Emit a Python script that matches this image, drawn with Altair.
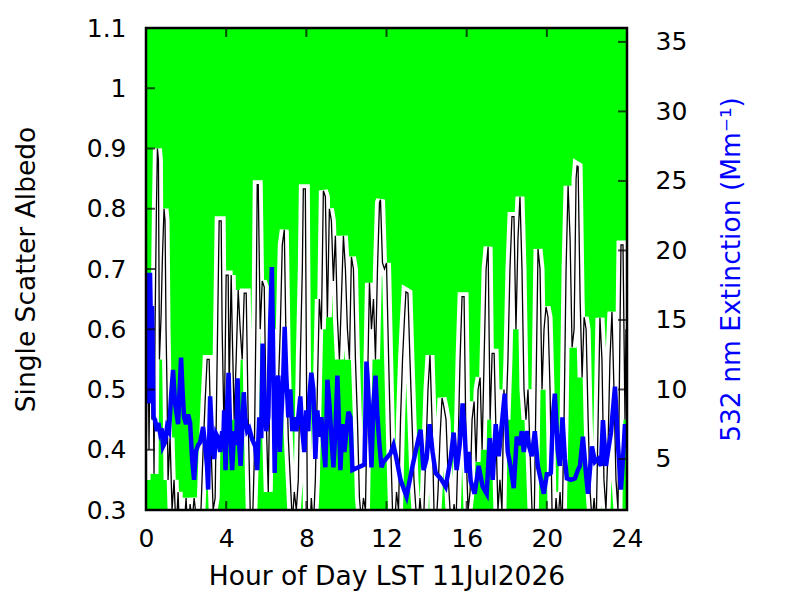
import altair as alt
import pandas as pd

# ---- data ----
albedo_hour = [
    0.0, 0.05, 0.1, 0.15, 0.2, 0.25, 0.3, 0.35, 0.4, 0.45, 0.52, 0.57, 0.62, 0.67, 0.75, 0.82, 0.9, 0.95,
    1.0, 1.05, 1.1, 1.2, 1.3, 1.4, 1.5, 1.6, 1.7, 1.8, 1.9, 2.0, 2.1, 2.2, 2.3, 2.4, 2.5, 2.6, 2.7, 2.85,
    2.95, 3.05, 3.15, 3.25, 3.35, 3.45, 3.55, 3.65, 3.75, 3.8, 3.9, 4.0, 4.1, 4.15, 4.25, 4.3, 4.4, 4.5,
    4.6, 4.7, 4.8, 4.9, 5.0, 5.1, 5.2, 5.3, 5.4, 5.5, 5.55, 5.6, 5.7, 5.8, 5.9, 6.0, 6.1, 6.2, 6.3, 6.4,
    6.5, 6.6, 6.7, 6.8, 6.9, 7.0, 7.1, 7.2, 7.3, 7.4, 7.5, 7.6, 7.7, 7.8, 7.85, 7.95, 8.05, 8.15, 8.25,
    8.35, 8.45, 8.55, 8.65, 8.75, 8.85, 8.95, 9.05, 9.15, 9.25, 9.35, 9.45, 9.55, 9.65, 9.75, 9.85, 9.95,
    10.05, 10.15, 10.25, 10.35, 10.45, 10.55, 10.65, 10.75, 10.85, 10.95, 11.05, 11.15, 11.25, 11.35,
    11.45, 11.55, 11.65, 11.7, 11.8, 11.9, 12.0, 12.1, 12.2, 12.3, 12.4, 12.5, 12.6, 12.7, 12.8, 12.9,
    12.97, 13.07, 13.17, 13.27, 13.37, 13.47, 13.57, 13.67, 13.77, 13.87, 13.97, 14.07, 14.17, 14.27,
    14.37, 14.47, 14.57, 14.67, 14.77, 14.87, 14.97, 15.07, 15.17, 15.27, 15.37, 15.47, 15.57, 15.67,
    15.77, 15.87, 15.97, 16.07, 16.17, 16.27, 16.37, 16.47, 16.57, 16.67, 16.77, 16.87, 16.97, 17.07,
    17.17, 17.27, 17.37, 17.47, 17.56, 17.66, 17.76, 17.86, 17.96, 18.06, 18.16, 18.26, 18.36, 18.46,
    18.56, 18.66, 18.76, 18.86, 18.96, 19.06, 19.16, 19.26, 19.36, 19.46, 19.56, 19.66, 19.76, 19.86,
    19.96, 20.06, 20.16, 20.26, 20.36, 20.46, 20.56, 20.66, 20.76, 20.86, 20.96, 21.06, 21.16, 21.26,
    21.36, 21.46, 21.51, 21.56, 21.66, 21.76, 21.86, 21.96, 22.06, 22.16, 22.26, 22.36, 22.46, 22.56,
    22.65, 22.75, 22.85, 22.95, 23.05, 23.15, 23.25, 23.35, 23.45, 23.55, 23.65, 23.7, 23.8, 23.9, 23.95,
]
albedo_value = [
    0.35, 0.55, 0.62, 0.40, 0.58, 0.60, 0.45, 0.55, 0.36, 0.60, 0.80, 0.90, 0.88, 0.55, 0.62, 0.72, 0.80, 0.78,
    0.60, 0.50, 0.35, 0.42, 0.30, 0.35, 0.26, 0.33, 0.24, 0.30, 0.27, 0.32, 0.25, 0.31, 0.28, 0.32, 0.29, 0.30, 0.26, 0.40,
    0.48, 0.55, 0.55, 0.40, 0.30, 0.32, 0.55, 0.78, 0.78, 0.60, 0.42, 0.69, 0.69, 0.50, 0.69, 0.60, 0.45, 0.55,
    0.665, 0.60, 0.55, 0.66, 0.66, 0.45, 0.30, 0.26, 0.38, 0.65, 0.84, 0.84, 0.60, 0.68, 0.67, 0.45, 0.33, 0.55, 0.60, 0.50,
    0.42, 0.50, 0.60, 0.74, 0.765, 0.55, 0.42, 0.35, 0.28, 0.33, 0.30, 0.35, 0.55, 0.70, 0.833, 0.833, 0.30, 0.25, 0.32,
    0.27, 0.35, 0.50, 0.65, 0.60, 0.83, 0.82, 0.62, 0.80, 0.78, 0.68, 0.755, 0.62, 0.55, 0.65, 0.755, 0.70,
    0.60, 0.55, 0.72, 0.70, 0.55, 0.45, 0.32, 0.28, 0.32, 0.30, 0.50, 0.677, 0.60, 0.65,
    0.55, 0.70, 0.81, 0.815, 0.71, 0.70, 0.71, 0.56, 0.42, 0.30, 0.27, 0.33, 0.30, 0.45, 0.55, 0.62,
    0.662, 0.66, 0.55, 0.45, 0.35, 0.30, 0.27, 0.32, 0.28, 0.30, 0.40, 0.50, 0.557, 0.45,
    0.30, 0.27, 0.33, 0.42, 0.486, 0.47, 0.45, 0.36, 0.30, 0.26, 0.31, 0.28, 0.40, 0.55,
    0.654, 0.654, 0.40, 0.30, 0.33, 0.45, 0.48, 0.38, 0.50, 0.52, 0.40, 0.55, 0.70, 0.737,
    0.45, 0.56, 0.56, 0.42, 0.30, 0.35, 0.30, 0.50, 0.45, 0.55, 0.70, 0.787, 0.787, 0.60,
    0.75, 0.82, 0.70, 0.50, 0.45, 0.50, 0.40, 0.30, 0.26, 0.50, 0.733, 0.70, 0.50, 0.60,
    0.637, 0.62, 0.50, 0.30, 0.26, 0.32, 0.28, 0.33, 0.27, 0.45, 0.70, 0.838, 0.75, 0.57,
    0.60, 0.85, 0.871, 0.87, 0.65, 0.52, 0.62, 0.60, 0.45, 0.33, 0.28, 0.32, 0.27, 0.45,
    0.619, 0.55, 0.35, 0.30, 0.40, 0.55, 0.629, 0.50, 0.35, 0.30, 0.60, 0.74, 0.74, 0.45, 0.60,
]

ext_hour = [
    0.0, 0.05, 0.1, 0.15, 0.2, 0.25, 0.3, 0.38, 0.45, 0.55, 0.62, 0.7, 0.78, 0.85, 0.95, 1.05, 1.15, 1.25,
    1.35, 1.45, 1.5, 1.6, 1.75, 1.82, 1.9, 2.0, 2.1, 2.2, 2.3, 2.4, 2.5, 2.6, 2.7, 2.85, 2.95, 3.05, 3.1,
    3.2, 3.3, 3.4, 3.5, 3.6, 3.7, 3.8, 3.85, 3.9, 3.97, 4.05, 4.12, 4.2, 4.3, 4.4, 4.5, 4.57, 4.65, 4.72,
    4.8, 4.88, 4.95, 5.05, 5.15, 5.3, 5.45, 5.55, 5.65, 5.75, 5.82, 5.9, 6.0, 6.1, 6.2, 6.28, 6.35, 6.42,
    6.5, 6.6, 6.68, 6.75, 6.85, 6.92, 7.0, 7.1, 7.2, 7.3, 7.4, 7.5, 7.6, 7.7, 7.8, 7.9, 8.0, 8.1, 8.15,
    8.25, 8.35, 8.45, 8.55, 8.65, 8.75, 8.85, 8.95, 9.05, 9.15, 9.25, 9.35, 9.45, 9.55, 9.62, 9.7, 9.8,
    9.9, 10.0, 10.1, 10.2, 10.3, 10.9, 11.0, 11.05, 11.15, 11.25, 11.35, 11.45, 11.55, 11.65, 11.75, 11.85,
    12.2, 12.35, 12.5, 12.7, 13.0, 13.3, 13.6, 13.7, 13.85, 14.0, 14.15, 14.3, 14.45, 14.7, 14.95, 15.2,
    15.35, 15.5, 15.65, 15.8, 15.9, 16.0, 16.1, 16.2, 16.4, 16.6, 16.8, 17.0, 17.15, 17.3, 17.45, 17.6,
    17.9, 18.05, 18.2, 18.35, 18.5, 18.65, 18.75, 18.85, 19.0, 19.1, 19.25, 19.4, 19.55, 19.7, 19.85, 20.0,
    20.1, 20.2, 20.3, 20.4, 20.55, 20.65, 20.78, 20.9, 21.0, 21.2, 21.4, 21.55, 21.65, 21.8, 21.95, 22.05,
    22.25, 22.4, 22.55, 22.7, 22.8, 22.95, 23.05, 23.2, 23.4, 23.55, 23.7, 23.8, 23.9, 24.0,
]
ext_value = [
    9.0, 15.0, 18.4, 9.0, 18.4, 14.0, 16.0, 8.0, 7.8, 7.0, 7.6, 6.9, 7.2, 5.9, 6.2, 7.3, 7.0, 9.5,
    11.4, 9.0, 8.5, 7.5, 12.3, 10.0, 8.0, 7.5, 8.2, 7.6, 5.0, 3.5, 5.6, 6.0, 6.2, 7.3, 6.0, 4.4, 2.8,
    9.5, 6.4, 5.0, 6.8, 6.5, 5.5, 7.0, 6.0, 8.5, 4.2, 9.0, 11.2, 7.0, 4.2, 7.0, 6.0, 10.8, 6.0, 4.5,
    7.0, 9.8, 8.0, 7.0, 7.2, 6.4, 5.9, 4.2, 8.0, 6.5, 13.3, 9.0, 7.0, 8.0, 15.0, 18.8, 12.0, 4.0,
    10.0, 11.0, 5.5, 8.0, 11.0, 14.5, 11.0, 8.0, 10.0, 7.0, 8.0, 7.0, 8.0, 9.5, 7.0, 5.5, 8.5, 7.0, 9.5,
    11.2, 10.0, 5.0, 8.5, 6.6, 8.0, 6.0, 4.4, 10.7, 9.0, 6.6, 4.4, 7.0, 11.0, 8.0, 4.2, 7.5,
    5.5, 7.0, 8.4, 8.0, 4.2, 4.6, 12.0, 11.0, 8.0, 4.4, 9.0, 11.0, 8.0, 6.0, 4.4, 4.8,
    5.4, 6.0, 5.0, 3.5, 2.3, 4.5, 6.5, 7.1, 4.2, 5.0, 7.5, 5.5, 4.0, 3.6, 3.0, 5.0,
    6.9, 4.2, 6.0, 9.0, 7.0, 4.0, 5.5, 3.4, 2.5, 4.5, 3.0, 2.5, 6.5, 3.5, 7.5, 5.2,
    9.7, 5.5, 4.4, 2.9, 6.6, 6.0, 7.0, 5.5, 7.0, 6.0, 5.2, 7.0, 4.5, 3.5, 2.5, 3.9,
    3.9, 4.0, 8.0, 9.7, 5.5, 4.5, 8.0, 5.0, 3.6, 3.5, 3.6, 4.2, 4.5, 6.6, 4.0, 2.5,
    5.9, 4.8, 5.0, 4.5, 7.8, 4.5, 5.5, 6.9, 10.2, 6.0, 2.8, 5.0, 7.5, 6.0,
]

x_ticks = [0, 4, 8, 12, 16, 20, 24]
albedo_ticks = [0.3, 0.4, 0.5, 0.6, 0.7, 0.8, 0.9, 1.0, 1.1]
ext_ticks = [5, 10, 15, 20, 25, 30, 35]

x_domain = [0, 24]
albedo_domain = [0.3, 1.1]
ext_domain = [1.33, 36.0]

W, H = 481, 482
FONT = "DejaVu Sans"
FS = 25
TFS = 26.5

alb_df = pd.DataFrame({"hour": albedo_hour, "albedo": albedo_value})
ext_df = pd.DataFrame({"hour": ext_hour, "ext": ext_value})

xs = alt.Scale(domain=x_domain, nice=False, zero=False, padding=0)
ys_a = alt.Scale(domain=albedo_domain, nice=False, zero=False, padding=0)
ys_e = alt.Scale(domain=ext_domain, nice=False, zero=False, padding=0)

x_axis = alt.Axis(values=x_ticks, title="Hour of Day LST 11Jul2026", format="d",
                  labelPadding=16, titlePadding=12, tickSize=0, ticks=False,
                  labelFlush=False, domain=False, grid=False)
X = alt.X("hour:Q", scale=xs, axis=x_axis)

base_a = alt.Chart(alb_df)

white_line = base_a.mark_line(color="white", strokeWidth=9, clip=True).encode(
    x=X,
    y=alt.Y("albedo:Q", scale=ys_a,
            axis=alt.Axis(values=albedo_ticks, format=".1~f", title="Single Scatter Albedo",
                          labelPadding=20, titlePadding=46, tickSize=0, ticks=False,
                          labelFlush=False, domain=False, grid=False)),
)

black_line = base_a.mark_line(color="black", strokeWidth=1.3, clip=True).encode(
    x=X,
    y=alt.Y("albedo:Q", scale=ys_a, axis=None),
)

blue_line = alt.Chart(ext_df).mark_line(color="#0000ff", strokeWidth=4.5, clip=True).encode(
    x=X,
    y=alt.Y("ext:Q", scale=ys_e,
            axis=alt.Axis(orient="right", values=ext_ticks, title="532 nm Extinction (Mm⁻¹)",
                          titleColor="#0000ff", titleAngle=270, titleBaseline="top",
                          labelPadding=28, titlePadding=32, tickSize=0, ticks=False,
                          labelFlush=False, domain=False, grid=False)),
)

# inward ticks (gnuplot style)
xt_df = pd.DataFrame({"hour": x_ticks})
at_df = pd.DataFrame({"albedo": albedo_ticks})
et_df = pd.DataFrame({"ext": ext_ticks})

xtick_bottom = alt.Chart(xt_df).mark_tick(color="black", thickness=2, size=9).encode(
    x=X, y=alt.value(H - 4.5))
xtick_top = alt.Chart(xt_df).mark_tick(color="black", thickness=2, size=9).encode(
    x=X, y=alt.value(4.5))
atick = alt.Chart(at_df).mark_tick(color="black", thickness=2, size=9).encode(
    y=alt.Y("albedo:Q", scale=ys_a, axis=None), x=alt.value(4.5))
etick = alt.Chart(et_df).mark_tick(color="black", thickness=2, size=9).encode(
    y=alt.Y("ext:Q", scale=ys_e, axis=None), x=alt.value(W - 4.5))

frame = alt.Chart(pd.DataFrame({"k": [0]})).mark_rect(
    filled=False, stroke="black", strokeWidth=2.5).encode(
    x=alt.value(0), x2=alt.value(W), y=alt.value(0), y2=alt.value(H))

chart = alt.layer(
    white_line, black_line, blue_line, xtick_bottom, xtick_top, atick, etick, frame
).resolve_scale(y="independent").properties(
    width=W, height=H,
    autosize=alt.AutoSizeParams(type="none"),
    padding={"left": 138, "top": 20, "right": 150, "bottom": 85},
).configure_view(
    fill="#00ff00", stroke=None
).configure_axis(
    labelFont=FONT, labelFontSize=FS, labelColor="black",
    titleFont=FONT, titleFontSize=TFS, titleFontWeight="normal", titleColor="black",
)

chart.save("out.html", embed_options={"renderer": "svg", "actions": False})
